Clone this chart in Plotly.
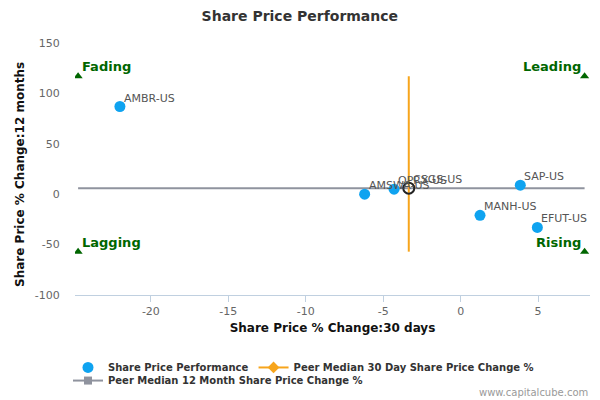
import plotly.graph_objects as go

# Data
tickers = ["AMBR-US", "AMSWA-US", "OPRX-US", "CSGS-US", "SAP-US", "MANH-US", "EFUT-US"]
chg_30d = [-22.0, -6.2, -4.3, -3.35, 3.85, 1.25, 4.95]
chg_12m = [87, 0, 5, 6, 9, -21, -33]
subject = "CSGS-US"

median_30d = -3.35
median_12m = 6
median_12m_span = [-24.7, 8.0]
median_30d_span = [-57, 117]

quad_names = ["Fading", "Leading", "Lagging", "Rising"]
quad_x = [-24.7, 8.0, -24.7, 8.0]
quad_y = [117, 117, -57, -57]

x_ticks = [-20, -15, -10, -5, 0, 5]
y_ticks = [-100, -50, 0, 50, 100, 150]
x_tick_text = [str(v) for v in x_ticks]
y_tick_text = [str(v) for v in y_ticks]

FONT = "DejaVu Sans"
BLUE = "#0fa3f0"
ORANGE = "#f7a51c"
GRAY = "#8f939e"
GREEN = "#006600"

fig = go.Figure()

# Median lines (plot)
fig.add_trace(go.Scatter(x=median_12m_span, y=[median_12m, median_12m], mode="lines",
                         line=dict(color=GRAY, width=2), showlegend=False, hoverinfo="skip"))
fig.add_trace(go.Scatter(x=[median_30d, median_30d], y=median_30d_span, mode="lines",
                         line=dict(color=ORANGE, width=2), showlegend=False, hoverinfo="skip"))

# Share price points (subject company drawn as a ring)
fill_colors = ["rgba(0,0,0,0)" if t == subject else BLUE for t in tickers]
ring_colors = ["#222222" if t == subject else BLUE for t in tickers]
ring_widths = [2 if t == subject else 0 for t in tickers]
fig.add_trace(go.Scatter(x=chg_30d, y=chg_12m, mode="markers", name="Share Price Performance",
                         marker=dict(color=fill_colors, size=11,
                                     line=dict(width=ring_widths, color=ring_colors)),
                         showlegend=False))

# Legend entries
fig.add_trace(go.Scatter(x=[None], y=[None], mode="markers", name="Share Price Performance",
                         marker=dict(color=BLUE, size=11), legend="legend"))
fig.add_trace(go.Scatter(x=[None], y=[None], mode="lines+markers",
                         name="Peer Median 30 Day Share Price Change %", legend="legend",
                         line=dict(color=ORANGE, width=2), marker=dict(symbol="diamond", size=9, color=ORANGE)))
fig.add_trace(go.Scatter(x=[None], y=[None], mode="lines+markers",
                         name="Peer Median 12 Month Share Price Change %", legend="legend2",
                         line=dict(color=GRAY, width=2), marker=dict(symbol="square", size=8, color=GRAY)))

# Labels
for t, x, y in zip(tickers, chg_30d, chg_12m):
    fig.add_annotation(x=x, y=y, text=t, showarrow=False, xanchor="left", yanchor="bottom",
                       xshift=2, yshift=0, font=dict(family=FONT, size=11, color="#555555"))

# Quadrant markers
fig.add_trace(go.Scatter(x=quad_x, y=quad_y, mode="markers", showlegend=False, hoverinfo="skip",
                         marker=dict(symbol="triangle-up", size=8, color=GREEN)))
for name, x, y in zip(quad_names, quad_x, quad_y):
    left = x < 0
    fig.add_annotation(x=x, y=y, text="<b>%s</b>" % name, showarrow=False,
                       xanchor="left" if left else "right", yanchor="bottom",
                       xshift=2 if left else -2, yshift=0,
                       font=dict(family=FONT, size=13, color=GREEN))

# Y axis title
fig.add_annotation(xref="paper", yref="paper", x=-0.107, y=0.48, text="<b>Share Price % Change:12 months</b>",
                   textangle=-90, showarrow=False, xanchor="center", yanchor="middle",
                   font=dict(family=FONT, size=12, color="#111111"))

fig.add_annotation(xref="paper", yref="paper", x=1.0, y=-0.385, text="www.capitalcube.com",
                   showarrow=False, xanchor="right", yanchor="middle",
                   font=dict(family=FONT, size=10, color="#999999"))

legend_font = dict(family=FONT, size=10, color="#333333", weight="bold")

fig.update_layout(
    width=592, height=392,
    margin=dict(l=67, r=10, t=35, b=105, autoexpand=False),
    paper_bgcolor="white", plot_bgcolor="white",
    font=dict(family=FONT, color="#333333"),
    title=dict(text="<b>Share Price Performance</b>", x=0.493, xref="container", xanchor="center",
               y=0.98, yanchor="middle",
               font=dict(family=FONT, size=14, color="#333333")),
    xaxis=dict(range=[-24.9, 8.35], tickvals=x_ticks, ticktext=x_tick_text, showgrid=False,
               zeroline=False, automargin=False,
               showline=True, linecolor="#c0d0e0", linewidth=1, ticks="outside", ticklen=6,
               tickcolor="#c0d0e0", tickfont=dict(family=FONT, size=11, color="#666666"),
               title=dict(text="<b>Share Price % Change:30 days</b>", standoff=6,
                          font=dict(family=FONT, size=12, color="#111111"))),
    yaxis=dict(range=[-100, 150], tickvals=y_ticks, ticktext=y_tick_text, showgrid=False,
               zeroline=False, showline=False, automargin=False,
               tickfont=dict(family=FONT, size=11, color="#666666"),
               ticks="outside", ticklen=12, tickcolor="rgba(0,0,0,0)"),
    legend=dict(orientation="h", x=-0.0136, xanchor="left", y=-0.230, yanchor="top",
                traceorder="normal", font=legend_font, tracegroupgap=0,
                bgcolor="rgba(0,0,0,0)"),
    legend2=dict(orientation="h", x=-0.0136, xanchor="left", y=-0.282, yanchor="top",
                 traceorder="normal", font=legend_font, tracegroupgap=0,
                 bgcolor="rgba(0,0,0,0)"),
    showlegend=True,
)

fig.write_html("out.html")
